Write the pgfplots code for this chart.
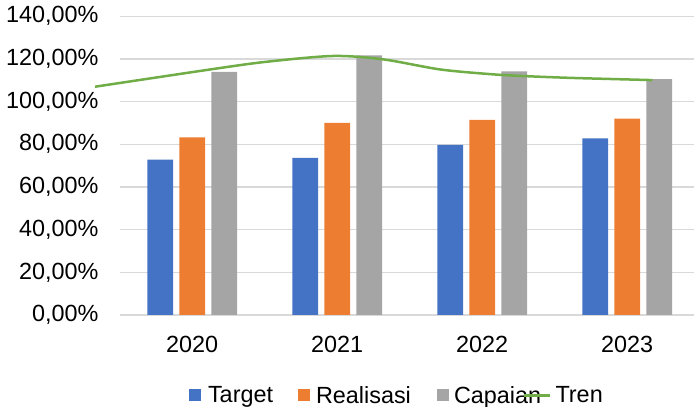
\documentclass[border=0pt]{standalone}
\usepackage{pgfplots}
\pgfplotsset{compat=1.18}
\usepackage{fontspec}
\setmainfont{Liberation Sans}
\definecolor{cblue}{HTML}{4472C4}
\definecolor{corange}{HTML}{ED7D31}
\definecolor{cgray}{HTML}{A5A5A5}
\definecolor{cgreen}{HTML}{70AD47}
\definecolor{gridgray}{HTML}{D9D9D9}
\begin{document}
\begin{tikzpicture}[x=1pt,y=1pt]
\path[use as bounding box] (0,0) rectangle (694,407);
\begin{axis}[
  at={(119.7pt,92pt)}, anchor=south west,
  width=580pt, height=298.7pt, scale only axis,
  xmin=-0.5, xmax=3.5, ymin=0, ymax=140,
  clip=false,
  font=\fontsize{23.4}{28}\selectfont,
  /pgf/number format/assume math mode=true,
  ytick={0,20,...,140},
  yticklabels={{0,00\%},{20,00\%},{40,00\%},{60,00\%},{80,00\%},{100,00\%},{120,00\%},{140,00\%}},
  xtick={0,1,2,3},
  xticklabels={2020,2021,2022,2023},
  ymajorgrids,
  grid style={draw=gridgray, line width=1.5pt},
  axis y line=left,
  y axis line style={draw=none},
  axis x line=bottom,
  x axis line style={draw=gridgray, line width=1.5pt, -},
  major tick length=0pt,
  tick style={draw=none},
  yticklabel style={anchor=east, inner sep=0pt, xshift=-21pt},
  xticklabel style={anchor=north, inner sep=0pt, yshift=-21pt},
  bar width=25.7pt,
  legend columns=4,
  legend style={at={(0.114,-0.231)}, anchor=north west, draw=none, fill=none,
    column sep=0pt, nodes={inner sep=0pt}, cells={anchor=west}},
]
\addplot[ybar, bar shift=-32pt, fill=cblue, draw=none,
  legend image code/.code={\fill[cblue] (0pt,-5.5pt) rectangle (11.5pt,6pt); \path (19pt,0pt);}]
  coordinates {(0,72.8) (1,73.7) (2,79.7) (3,82.8)};
\addlegendentry{\makebox[90pt][l]{Target}}
\addplot[ybar, bar shift=0pt, fill=corange, draw=none,
  legend image code/.code={\fill[corange] (0pt,-5.5pt) rectangle (11.5pt,6pt); \path (18pt,0pt);}]
  coordinates {(0,83.3) (1,90.1) (2,91.4) (3,92.0)};
\addlegendentry{\makebox[121pt][l]{Realisasi}}
\addplot[ybar, bar shift=32pt, fill=cgray, draw=none,
  legend image code/.code={\fill[cgray] (0pt,-5.5pt) rectangle (11.5pt,6pt); \path (17pt,0pt);}]
  coordinates {(0,113.9) (1,121.7) (2,114.2) (3,110.5)};
\addlegendentry{\makebox[69pt][l]{Capaian}}
\addplot[smooth, tension=0.5, color=cgreen, line width=2.5pt,
  legend image code/.code={\draw[cgreen, line width=2.5pt] (0pt,0pt) -- (26pt,0pt); \path (30pt,0pt);}]
  coordinates {(-0.670,107.0) (0.146,115.3) (0.514,118.7) (0.973,121.4) (1.318,119.8) (1.709,115.1) (2.054,112.9) (2.283,112.0) (2.628,111.1) (3.173,110.1)};
\addlegendentry{Tren}
\end{axis}
\end{tikzpicture}
\end{document}
